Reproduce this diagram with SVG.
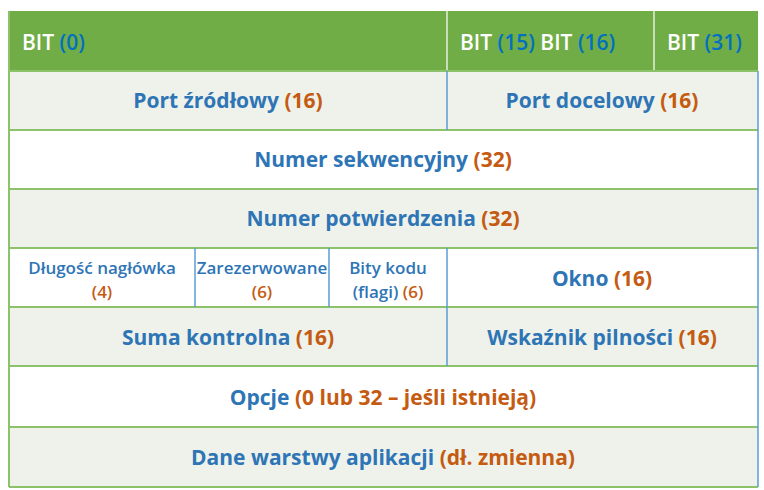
<svg xmlns="http://www.w3.org/2000/svg" width="764" height="490" viewBox="0 0 764 490">
<style>
.t{font-family:"Open Sans","Noto Sans",sans-serif;font-weight:700;font-size:21px;fill:#2e75b6;text-anchor:middle}
.s{font-family:"Open Sans","Noto Sans",sans-serif;font-weight:600;font-size:17px;fill:#2e75b6;text-anchor:middle}
.h{font-family:"Open Sans","Noto Sans",sans-serif;font-weight:600;font-size:21px;fill:#ffffff}
.o{fill:#c55a11}
.n{fill:#0070c0}
.lt{fill:#eef2ea}
.wt{fill:#ffffff}
.gl{stroke:#8cc26a;stroke-width:2}
.bl{stroke:#5b9bd5;stroke-width:1.5}
.hl{stroke:#e4efdc;stroke-width:1.5}
</style>
<rect width="764" height="490" fill="#ffffff"/>
<g id="header">
<rect x="9" y="11" width="749" height="60" fill="#70ad47"/>
<text class="h" x="22" y="50">BIT <tspan class="n">(0)</tspan></text>
<text class="h" x="460" y="50">BIT <tspan class="n">(15)</tspan> BIT <tspan class="n">(16)</tspan></text>
<text class="h" x="667" y="50">BIT <tspan class="n">(31)</tspan></text>
</g>
<g id="row1">
<rect class="lt" x="9" y="71" width="749" height="59"/>
<text class="t" x="228" y="108">Port źródłowy <tspan class="o">(16)</tspan></text>
<text class="t" x="602" y="108">Port docelowy <tspan class="o">(16)</tspan></text>
</g>
<g id="row2">
<rect class="wt" x="9" y="130" width="749" height="59"/>
<text class="t" x="383" y="167">Numer sekwencyjny <tspan class="o">(32)</tspan></text>
</g>
<g id="row3">
<rect class="lt" x="9" y="189" width="749" height="59"/>
<text class="t" x="383" y="226">Numer potwierdzenia <tspan class="o">(32)</tspan></text>
</g>
<g id="row4">
<rect class="wt" x="9" y="248" width="749" height="59"/>
<text class="s" x="102" y="274">Długość nagłówka</text>
<text class="s" x="102" y="298"><tspan class="o">(4)</tspan></text>
<text class="s" x="262" y="274">Zarezerwowane</text>
<text class="s" x="262" y="298"><tspan class="o">(6)</tspan></text>
<text class="s" x="388" y="274">Bity kodu</text>
<text class="s" x="388" y="298">(flagi) <tspan class="o">(6)</tspan></text>
<text class="t" x="602" y="286">Okno <tspan class="o">(16)</tspan></text>
</g>
<g id="row5">
<rect class="lt" x="9" y="307" width="749" height="59"/>
<text class="t" x="228" y="345">Suma kontrolna <tspan class="o">(16)</tspan></text>
<text class="t" x="602" y="345">Wskaźnik pilności <tspan class="o">(16)</tspan></text>
</g>
<g id="row6">
<rect class="wt" x="9" y="366" width="749" height="61"/>
<text class="t" x="383" y="405">Opcje <tspan class="o">(0 lub 32 – jeśli istnieją)</tspan></text>
</g>
<g id="row7">
<rect class="lt" x="9" y="427" width="749" height="60"/>
<text class="t" x="383" y="465">Dane warstwy aplikacji <tspan class="o">(dł. zmienna)</tspan></text>
</g>
<g id="lines" fill="none">
<line class="hl" x1="447" y1="11" x2="447" y2="71"/>
<line class="hl" x1="654" y1="11" x2="654" y2="71"/>
<line class="gl" x1="9" y1="71" x2="758" y2="71"/>
<line class="gl" x1="9" y1="130" x2="758" y2="130"/>
<line class="gl" x1="9" y1="189" x2="758" y2="189"/>
<line class="gl" x1="9" y1="248" x2="758" y2="248"/>
<line class="gl" x1="9" y1="307" x2="758" y2="307"/>
<line class="gl" x1="9" y1="366" x2="758" y2="366"/>
<line class="gl" x1="9" y1="427" x2="758" y2="427"/>
<line class="gl" x1="9" y1="487" x2="758" y2="487"/>
<line class="bl" x1="447" y1="71" x2="447" y2="130"/>
<line class="bl" x1="195" y1="248" x2="195" y2="307"/>
<line class="bl" x1="329" y1="248" x2="329" y2="307"/>
<line class="bl" x1="447" y1="248" x2="447" y2="366"/>
<line class="gl" x1="9" y1="11" x2="9" y2="487"/>
<line class="bl" x1="758" y1="71" x2="758" y2="487"/>
</g>
</svg>
